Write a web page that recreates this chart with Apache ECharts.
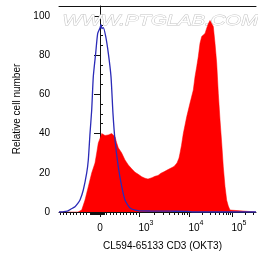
<!DOCTYPE html>
<html><head><meta charset="utf-8">
<script src="https://cdn.jsdelivr.net/npm/echarts@6/dist/echarts.min.js"></script>
<style>html,body{margin:0;padding:0;background:#fff}#c{width:258px;height:262px}</style>
</head><body><div id="c"></div>
<script>
// Display units on the biexponential x axis (0 = zero channel)
const xMajorTicks = [0, 39.5, 89.5, 132.5];
const xMajorLabels = ['0', '10^3', '10^4', '10^5'];
const xLinearMinorTicks = [-40, -36.7, -33.3, -30, -26.7, -23.3, -20, -16.7, -13.3,
  -10, -9, -8, -7, -6, -5, -4, -3, -2, -1, 1, 2, 3, 4,
  6.7, 10, 13.3, 16.7, 20, 23.3, 26.7, 30, 33.3, 36.7];
const xDecadeWidths = [50, 43, 43];
const yMajorTicks = [0, 20, 40, 60, 80, 100];
const yMinorTicks = [5, 10, 15, 25, 30, 35, 45, 50, 55, 65, 70, 75, 85, 90, 95];

// control (blue) histogram: [display x, relative count]
const bluePoints = [
  [-41, 0], [-38, 0], [-35, 0.3], [-32, 0.6], [-29, 1.5], [-25, 2.7], [-22, 4.5], [-20, 6.1],
  [-16.7, 11.2], [-13.3, 19.9], [-11.7, 26.5], [-10, 40], [-8.3, 52], [-6.7, 69], [-4.3, 81],
  [-2.3, 91], [0, 93.8], [1, 95.5], [2, 93.5], [3.3, 94], [5.7, 89.5], [8.3, 81], [11, 69],
  [13, 50], [15, 36.7], [18.3, 23], [21.7, 13], [25, 6.1], [30, 2], [38, 0.7], [50, 0.5],
  [70, 0.4], [88, 0.3], [92, 0], [156, 0]
];
// CD3 stained (red) histogram
const redPoints = [
  [-41, 0], [-22, 0], [-18.3, 1], [-15, 6.1], [-11.7, 12.9], [-8.3, 19.9], [-5, 25], [-3.3, 30.1],
  [-1.7, 35.2], [0.7, 38.4], [1.7, 40], [3.3, 40.5], [5, 39], [6.7, 40], [8.3, 39.3], [10, 38.5],
  [11.7, 40], [13.3, 40.2], [15, 38.4], [16.7, 35.2], [18.3, 32.7], [21.7, 30.1], [25, 26.5],
  [28.3, 24], [31.7, 22], [35, 20.3], [38.3, 19.2], [41.7, 18], [45, 17.2], [48, 16.8], [52, 17.5],
  [55, 18.2], [58, 18.6], [61, 19.8], [64, 20.5], [68, 21.6], [71, 22.4], [74, 23.2], [77, 25],
  [79, 27.5], [80, 30], [81.5, 34], [83.3, 40], [86.7, 48.5], [90, 55.5], [93.3, 62.2], [95, 69],
  [96.7, 74], [98.3, 79.2], [100, 86], [101.7, 89.5], [103.3, 90.3], [105, 91], [106.7, 93.7],
  [108.3, 96], [110, 97.6], [111.7, 97], [113.3, 94.5], [115, 86], [116.7, 75.9], [118.3, 60.5],
  [120, 47], [121.7, 35.2], [123.3, 23], [125, 13], [126.7, 6], [128.3, 3], [130, 1], [132, 0],
  [156, 0]
];

const xMinorTicks = xLinearMinorTicks.slice();
for (let d = 0; d < 3; d++) {
  for (let k = 2; k <= 9; k++) {
    const p = xMajorTicks[d + 1] + xDecadeWidths[d] * Math.log10(k);
    if (p <= 156) xMinorTicks.push(p);
  }
}

const FONT = 'Liberation Sans, Arial, sans-serif';
const axisCol = '#111';
const chart = echarts.init(document.getElementById('c'), null, {renderer: 'canvas'});

function xLabel(v) {
  let i = -1;
  xMajorTicks.forEach((t, j) => { if (Math.abs(t - v) < 1e-6) i = j; });
  if (i < 0) return '';
  const s = xMajorLabels[i];
  if (s.indexOf('^') < 0) return '{z|' + s + '}';
  const parts = s.split('^');
  return '{p|' + parts[0] + '}{s|' + parts[1] + '}';
}

chart.setOption({
  animation: false,
  backgroundColor: '#fff',
  grid: {left: 59, right: 2, top: 6, bottom: 50},
  graphic: [{
    type: 'text', left: 62, top: 14, z: 1, scaleX: 1.45,
    style: {text: 'WWW.PTGLAB.COM', font: 'italic 14px ' + FONT, fill: '#fff', stroke: '#c4c4c4', lineWidth: 0.8}
  }],
  xAxis: [{
    type: 'value', min: -41, max: 156, position: 'bottom',
    axisLine: {show: true, lineStyle: {color: axisCol, width: 1}},
    axisTick: {show: true, customValues: xMajorTicks, length: 5, lineStyle: {color: axisCol}},
    axisLabel: {
      customValues: xMajorTicks, margin: 7, color: '#000', fontFamily: FONT, formatter: xLabel,
      rich: {
        z: {fontSize: 10, lineHeight: 18, fontFamily: FONT, color: '#000'},
        p: {fontSize: 10, lineHeight: 18, fontFamily: FONT, color: '#000', padding: [0, 0, 0, 13]},
        s: {fontSize: 7, fontFamily: FONT, color: '#000', padding: [0, 0, 10, 0]}
      }
    },
    splitLine: {show: false},
    name: 'CL594-65133 CD3 (OKT3)', nameLocation: 'middle', nameGap: 29,
    nameTextStyle: {fontSize: 10, fontFamily: FONT, color: '#000', padding: [0, 0, 0, 10]}
  }, {
    type: 'value', min: -41, max: 156, position: 'bottom',
    axisLine: {show: false},
    axisTick: {show: true, customValues: xMinorTicks, length: 3, lineStyle: {color: axisCol}},
    axisLabel: {show: false}, splitLine: {show: false}
  }, {
    type: 'value', min: -41, max: 156, position: 'top',
    axisLine: {show: true, lineStyle: {color: axisCol, width: 1}},
    axisTick: {show: false}, axisLabel: {show: false}, splitLine: {show: false}
  }],
  yAxis: [{
    type: 'value', min: 0, max: 105,
    axisLine: {show: true, lineStyle: {color: axisCol, width: 1}},
    axisTick: {show: true, customValues: yMajorTicks, length: 6, lineStyle: {color: axisCol}},
    axisLabel: {customValues: yMajorTicks, margin: 9, fontSize: 10, fontFamily: FONT, color: '#000'},
    splitLine: {show: false},
    name: 'Relative cell number', nameLocation: 'middle', nameGap: 36,
    nameTextStyle: {fontSize: 10, fontFamily: FONT, color: '#000'}
  }, {
    type: 'value', min: 0, max: 105,
    axisLine: {show: false},
    axisTick: {show: true, customValues: yMinorTicks, length: 3, lineStyle: {color: axisCol}},
    axisLabel: {show: false}, splitLine: {show: false}
  }],
  series: [{
    type: 'line', data: redPoints, xAxisIndex: 0, yAxisIndex: 0, showSymbol: false, z: 2,
    lineStyle: {color: '#ff0000', width: 0.5}, areaStyle: {color: '#ff0000', opacity: 1}
  }, {
    type: 'line', data: bluePoints, xAxisIndex: 0, yAxisIndex: 0, showSymbol: false, z: 3,
    smooth: 0.2, lineStyle: {color: '#2b2bb8', width: 1.3}
  }]
});
</script>
</body></html>
